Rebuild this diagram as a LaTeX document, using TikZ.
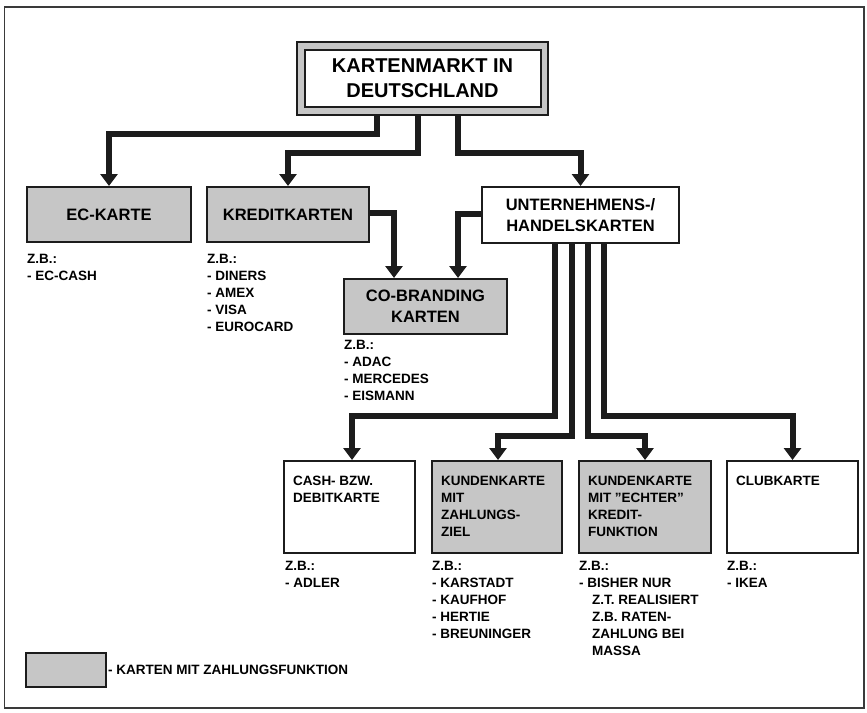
\documentclass[tikz,border=0pt]{standalone}
\usepackage{fontspec}
\setmainfont{Liberation Sans}
\usetikzlibrary{arrows.meta}
\definecolor{boxgray}{HTML}{C6C6C6}
\definecolor{ink}{HTML}{1C1C1C}
\definecolor{framec}{HTML}{3A3A3A}
\tikzset{
  conn/.style={line width=6pt, draw=ink, line join=miter, -{Triangle[length=12pt,width=17pt]}},
  graybox/.style={draw=ink, line width=2pt, fill=boxgray, inner sep=0pt, align=center, font=\bfseries\fontsize{16.5}{21}\selectfont},
  whitebox/.style={graybox, fill=white},
  lowbox/.style={draw=ink, line width=2pt, inner xsep=9pt, inner ysep=0pt, font=\bfseries\fontsize{13.5}{17}\selectfont},
  lowgray/.style={lowbox, fill=boxgray},
  lowwhite/.style={lowbox, fill=white},
  listtext/.style={anchor=north west, inner sep=0pt, align=left, font=\bfseries\fontsize{13.5}{17}\selectfont},
}
\newcommand{\boxtext}[2]{\parbox[c][92pt][t]{#1}{\vspace*{15pt}#2}}
\begin{document}
\begin{tikzpicture}[x=1pt,y=-1pt]
\useasboundingbox (0,0) rectangle (867,712);
\draw[framec, line width=1.6pt] (4.5,7) rectangle (864,708);

% title
\node[draw=ink, line width=2pt, fill=boxgray, minimum width=251pt, minimum height=73pt] (title) at (422.5,78.5) {};
\node[whitebox, minimum width=236pt, minimum height=57pt, font=\bfseries\fontsize{20}{25}\selectfont] (titlein) at (422.5,78.5) {KARTENMARKT IN\\DEUTSCHLAND};

% middle row
\node[graybox, minimum width=164pt, minimum height=55pt] (ec) at (109,214.5) {EC-KARTE};
\node[graybox, minimum width=162pt, minimum height=55pt] (kredit) at (288,214.5) {KREDITKARTEN};
\node[whitebox, minimum width=197pt, minimum height=56pt] (unter) at (580.5,215) {UNTERNEHMENS-/\\HANDELSKARTEN};
\node[graybox, minimum width=163pt, minimum height=55pt] (cobrand) at (425.5,306.5) {CO-BRANDING\\KARTEN};

% bottom row
\node[lowwhite] (cash) at (349.5,507) {\boxtext{113pt}{CASH- BZW.\\DEBITKARTE}};
\node[lowgray] (k1) at (497,507) {\boxtext{112pt}{KUNDENKARTE\\MIT\\ZAHLUNGS-\\ZIEL}};
\node[lowgray] (k2) at (645,507) {\boxtext{114pt}{KUNDENKARTE\\MIT "ECHTER"\\KREDIT-\\FUNKTION}};
\node[lowwhite] (club) at (792.5,507) {\boxtext{113pt}{CLUBKARTE}};

% lists (north west = cap top of first line)
\node[listtext] (lec) at (27,254.5) {Z.B.:\\- EC-CASH};
\node[listtext] (lkredit) at (207,254.5) {Z.B.:\\- DINERS\\- AMEX\\- VISA\\- EUROCARD};
\node[listtext] (lco) at (344,340.5) {Z.B.:\\- ADAC\\- MERCEDES\\- EISMANN};
\node[listtext] (lcash) at (285,561.5) {Z.B.:\\- ADLER};
\node[listtext] (lk1) at (432,561.5) {Z.B.:\\- KARSTADT\\- KAUFHOF\\- HERTIE\\- BREUNINGER};
\node[listtext] (lk2) at (579,561.5) {Z.B.:\\- BISHER NUR\\\hspace*{13pt}Z.T. REALISIERT\\\hspace*{13pt}Z.B. RATEN-\\\hspace*{13pt}ZAHLUNG BEI\\\hspace*{13pt}MASSA};
\node[listtext] (lclub) at (727,561.5) {Z.B.:\\- IKEA};

% legend
\node[draw=ink, line width=2pt, fill=boxgray, minimum width=80pt, minimum height=34pt, inner sep=0pt] (legend) at (66,670) {};
\node[anchor=west, inner sep=1pt, font=\bfseries\fontsize{13.5}{17}\selectfont] (legtext) at (legend.east) {- KARTEN MIT ZAHLUNGSFUNKTION};

% connectors
\draw[conn] ([xshift=-45.5pt]title.south) -- ++(0,18) -| (ec.north);
\draw[conn] ([xshift=-5pt]title.south) -- ++(0,37) -| (kredit.north);
\draw[conn] ([xshift=35.5pt]title.south) -- ++(0,37) -| (unter.north);
\draw[conn] ([yshift=1.5pt]kredit.east) -| ([xshift=-31.5pt]cobrand.north);
\draw[conn] ([yshift=1.5pt]unter.west) -| ([xshift=32.5pt]cobrand.north);
\draw[conn] ([xshift=-25.5pt]unter.south) -- ++(0,172) -| ([xshift=2.5pt]cash.north);
\draw[conn] ([xshift=-9pt]unter.south) -- ++(0,192) -| ([xshift=1pt]k1.north);
\draw[conn] ([xshift=7.5pt]unter.south) -- ++(0,192) -| (k2.north);
\draw[conn] ([xshift=23.5pt]unter.south) -- ++(0,172) -| (club.north);
\end{tikzpicture}
\end{document}
